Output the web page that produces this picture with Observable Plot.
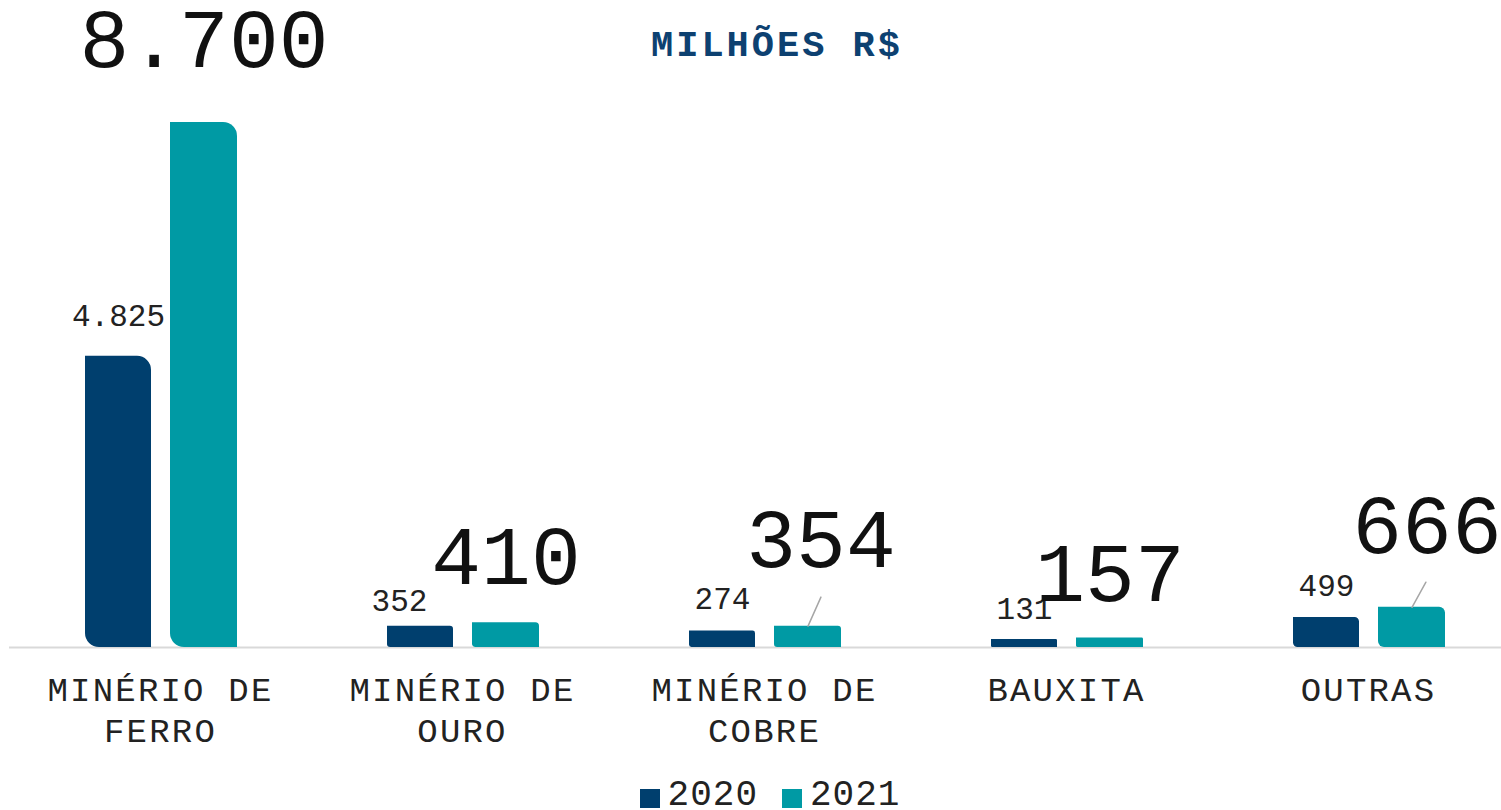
<!DOCTYPE html>
<html>
<head>
<meta charset="utf-8">
<script src="https://cdn.jsdelivr.net/npm/d3@7"></script>
<script src="https://cdn.jsdelivr.net/npm/@observablehq/plot@0.6"></script>
<style>
  html, body { margin: 0; padding: 0; background: #fff; }
  #wrap { position: relative; width: 1501px; height: 810px; overflow: hidden; font-family: "Liberation Mono", "DejaVu Sans Mono", monospace; }
  #title { position: absolute; top: 25px; left: 0; width: 1554px; text-align: center; font-weight: bold; font-size: 37px; letter-spacing: 3px; color: #0d4171; }
  #legend { position: absolute; top: 775px; left: 0; width: 1540px; display: flex; justify-content: center; align-items: center; gap: 24px; font-size: 36px; letter-spacing: 1px; color: #222; }
  #legend .item { display: flex; align-items: center; gap: 8px; }
  #legend .sw { width: 20px; height: 19px; display: inline-block; margin-top: 6px; }
  #chart { position: absolute; top: 0; left: 0; }
  #chart svg g[aria-label="x-axis tick label"] text { letter-spacing: 2.2px; }
</style>
</head>
<body>
<div id="wrap">
  <div id="chart"></div>
  <div id="title">MILHÕES R$</div>
  <div id="legend"></div>
</div>
<script>
// ---- data ----
const categories = ["MINÉRIO DE FERRO", "MINÉRIO DE OURO", "MINÉRIO DE COBRE", "BAUXITA", "OUTRAS"];
const years = ["2020", "2021"];
const values2020 = [4825, 352, 274, 131, 499];
const values2021 = [8700, 410, 354, 157, 666];
const colors = ["#003f6e", "#009aa4"];

// ---- build tables ----
const rows2020 = categories.map((c, i) => ({category: c, year: "2020", value: values2020[i]}));
const rows2021 = categories.map((c, i) => ({category: c, year: "2021", value: values2021[i]}));

const fmt = d3.formatLocale({decimal: ",", thousands: ".", grouping: [3], currency: ["R$", ""]}).format(",d");

// label nudges (pixels, relative to the top-centre of each bar)
const nudge2020 = [[0, -40], [-21, -25], [0, -32], [0, -31], [0, -31]];
const nudge2021 = [[0, -82], [0, -65], [13, -86], [0, -64], [15, -81]];
// leader lines: [length, rotation] for labels that were dragged away
const leaders = {"MINÉRIO DE COBRE": [31.8, 24], "OUTRAS": [28.7, 29]};

const off2020 = -42;   // bar centre offset from band centre
const off2021 = 43.5;

const lineShape = {draw(context, l) { context.moveTo(0, 0); context.lineTo(0, -l); }};

const marks = [
  Plot.ruleY([0], {stroke: "#d9d9d9", strokeWidth: 2}),
  Plot.barY(rows2020, {x: "category", y: "value", fill: colors[0], insetLeft: 76, insetRight: 160}),
  Plot.barY(rows2021, {x: "category", y: "value", fill: colors[1], insetLeft: 161, insetRight: 74}),
  Plot.axisX({tickSize: 0, tickPadding: 25, fontSize: 34, lineHeight: 1.2, fill: "#222", label: null,
    tickFormat: d => d.replace(" DE ", " DE\n")}),
  ...rows2020.map((r, i) => Plot.text([r], {x: "category", y: "value", text: d => fmt(d.value),
    dx: off2020 + nudge2020[i][0], dy: nudge2020[i][1], fontSize: 31, lineAnchor: "middle", fill: "#222"})),
  ...rows2021.map((r, i) => Plot.text([r], {x: "category", y: "value", text: d => fmt(d.value),
    dx: off2021 + nudge2021[i][0], dy: nudge2021[i][1], fontSize: 83, lineAnchor: "middle", fill: "#111"})),
  ...rows2021.filter(r => leaders[r.category]).map(r => Plot.vector([r], {x: "category", y: "value",
    dx: off2021, length: leaders[r.category][0], rotate: leaders[r.category][1], anchor: "start",
    shape: lineShape, stroke: "#a6a6a6", strokeWidth: 1.5}))
];

const chart = Plot.plot({
  width: 1501,
  height: 770,
  marginTop: 122,
  marginBottom: 123,
  marginLeft: 9,
  marginRight: 0,
  x: {domain: categories, range: [9, 1519], padding: 0, axis: null, label: null},
  y: {domain: [0, 8700], axis: null},
  style: {fontFamily: "Liberation Mono, monospace", background: "#fff", overflow: "visible"},
  marks
});

// round top-right and bottom-left corners of the bars
const NS = "http://www.w3.org/2000/svg";
chart.querySelectorAll('g[aria-label="bar"] rect').forEach(rect => {
  const x = +rect.getAttribute("x"), y = +rect.getAttribute("y");
  const w = +rect.getAttribute("width"), h = +rect.getAttribute("height");
  const r = Math.min(14, h * 0.15, w / 2);
  const p = document.createElementNS(NS, "path");
  for (const a of rect.attributes) {
    if (!["x", "y", "width", "height"].includes(a.name)) p.setAttribute(a.name, a.value);
  }
  p.setAttribute("d", `M${x},${y}H${x + w - r}A${r},${r} 0 0 1 ${x + w},${y + r}V${y + h}H${x + r}A${r},${r} 0 0 1 ${x},${y + h - r}Z`);
  rect.replaceWith(p);
});

document.getElementById("chart").appendChild(chart);

// legend
const legend = document.getElementById("legend");
years.forEach((y, i) => {
  const item = document.createElement("div");
  item.className = "item";
  const sw = document.createElement("span");
  sw.className = "sw";
  sw.style.background = colors[i];
  const t = document.createElement("span");
  t.textContent = y;
  item.appendChild(sw);
  item.appendChild(t);
  legend.appendChild(item);
});
</script>
</body>
</html>
